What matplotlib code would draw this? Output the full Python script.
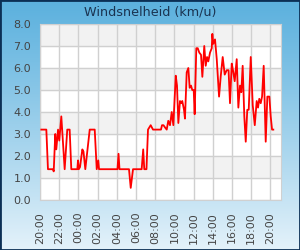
import matplotlib
matplotlib.use('Agg')
import matplotlib.pyplot as plt
import matplotlib.dates as mdates
from matplotlib.patches import Rectangle
import numpy as np
import pandas as pd

# hours after 20:00 and wind speed (km/u)
hours = [0.14, 0.66, 0.83, 1.35, 1.43, 1.59, 1.70, 1.88, 2.01, 2.22, 2.57, 2.84, 3.09,
         3.26, 3.89, 3.96, 4.04, 4.17, 4.41, 4.53, 4.72, 5.18, 5.70, 5.91, 6.07, 6.15,
         8.07, 8.18, 8.28, 9.27, 9.45, 9.69, 10.59, 10.75, 10.86, 11.09, 11.25, 11.53,
         11.77, 12.60, 12.71, 12.86, 13.02, 13.20, 13.36, 13.54, 13.72, 13.89, 14.14,
         14.27, 14.41, 14.58, 14.69, 14.82, 15.00, 15.10, 15.28, 15.45, 15.59, 15.73,
         15.86, 16.01, 16.11, 16.28, 16.43, 16.59, 16.77, 16.91, 17.11, 17.26, 17.40,
         17.53, 17.71, 17.89, 17.95, 18.05, 18.23, 18.41, 18.65, 18.82, 19.03, 19.24,
         19.45, 19.64, 19.79, 19.97, 20.10, 20.28, 20.49, 20.66, 20.83, 20.97, 21.11,
         21.28, 21.43, 21.59, 21.74, 21.95, 22.16, 22.37, 22.57, 22.71, 22.84, 22.99,
         23.13, 23.30, 23.51, 23.68, 23.89, 24.03, 24.17, 24.30]
speed = [3.2, 3.2, 1.4, 1.4, 1.3, 3.0, 2.3, 3.2, 2.7, 3.8, 1.4, 3.2, 3.2,
         1.4, 1.4, 1.8, 1.4, 1.5, 2.3, 2.2, 1.4, 3.2, 3.2, 1.4, 1.8, 1.4,
         1.4, 2.1, 1.4, 1.4, 0.55, 1.4, 1.4, 2.3, 1.4, 1.4, 3.2, 3.4,
         3.2, 3.2, 3.4, 3.4, 3.3, 3.2, 3.6, 3.4, 4.0, 3.4, 5.65,
         5.2, 3.5, 4.5, 4.4, 4.5, 4.1, 3.7, 5.8, 6.0, 5.1, 5.2,
         5.0, 5.0, 3.9, 6.9, 6.9, 6.7, 6.6, 5.6, 7.0, 6.1, 6.5,
         6.3, 6.7, 6.9, 7.55, 7.1, 7.3, 6.4, 4.7, 5.6, 6.5, 5.7,
         5.9, 5.9, 4.4, 6.2, 5.9, 5.4, 6.4, 4.2, 5.2, 4.9, 6.1,
         3.8, 2.65, 4.1, 4.1, 6.5, 4.3, 3.4, 4.5, 4.2, 4.6, 4.4,
         4.7, 6.1, 2.65, 4.7, 4.7, 3.8, 3.2, 3.2]

start = pd.Timestamp('2020-06-01 20:00')
times = start + pd.to_timedelta(hours, unit='h')

fig = plt.figure(figsize=(3.0, 2.5), dpi=100)

# gradient background
bg = fig.add_axes([0, 0, 1, 1], zorder=-10)
grad = np.linspace(0, 1, 256).reshape(-1, 1)
top = np.array([0x5c, 0xb1, 0xde]) / 255.0
bot = np.array([0xe4, 0xf2, 0xfa]) / 255.0
img = top + (bot - top) * grad[:, :, None] ** 1.1
bg.imshow(img, aspect='auto', extent=[0, 1, 0, 1])
bg.add_patch(Rectangle((0, 0), 1, 1, transform=bg.transAxes, fill=False,
                       edgecolor='#0b2f55', lw=2.0))
bg.set_axis_off()

ax = fig.add_axes([0.1333, 0.2, 0.8033, 0.704])
ax.set_facecolor('white')
for i in range(8):
    if i % 2 == 1:
        ax.axhspan(i, i + 1, color='#f2f2f2', zorder=0)

ax.plot(times, speed, color='#ff0000', lw=1.3, zorder=3)

ax.set_ylim(0, 8)
ax.set_yticks(np.arange(0, 8.1, 1))
ax.set_yticklabels(['%.1f' % v for v in np.arange(0, 8.1, 1)])
ax.set_xlim(start, start + pd.Timedelta(hours=25.1))
ax.xaxis.set_major_locator(mdates.HourLocator(byhour=range(0, 24, 2)))
ax.xaxis.set_major_formatter(mdates.DateFormatter('%H:%M'))
ax.grid(True, color='#d0d0d0', lw=1)
ax.set_axisbelow(True)
for s in ax.spines.values():
    s.set_color('#d0d0d0')
ax.tick_params(length=0, labelsize=8, colors='#444444')
ax.tick_params(axis='y', pad=6.5)
ax.tick_params(axis='x', rotation=90, pad=8.5)

fig.text(0.5, 0.953, 'Windsnelheid (km/u)', ha='center', va='center',
         fontsize=9.2, color='#1a3350')

fig.savefig('out.png', dpi=100)
